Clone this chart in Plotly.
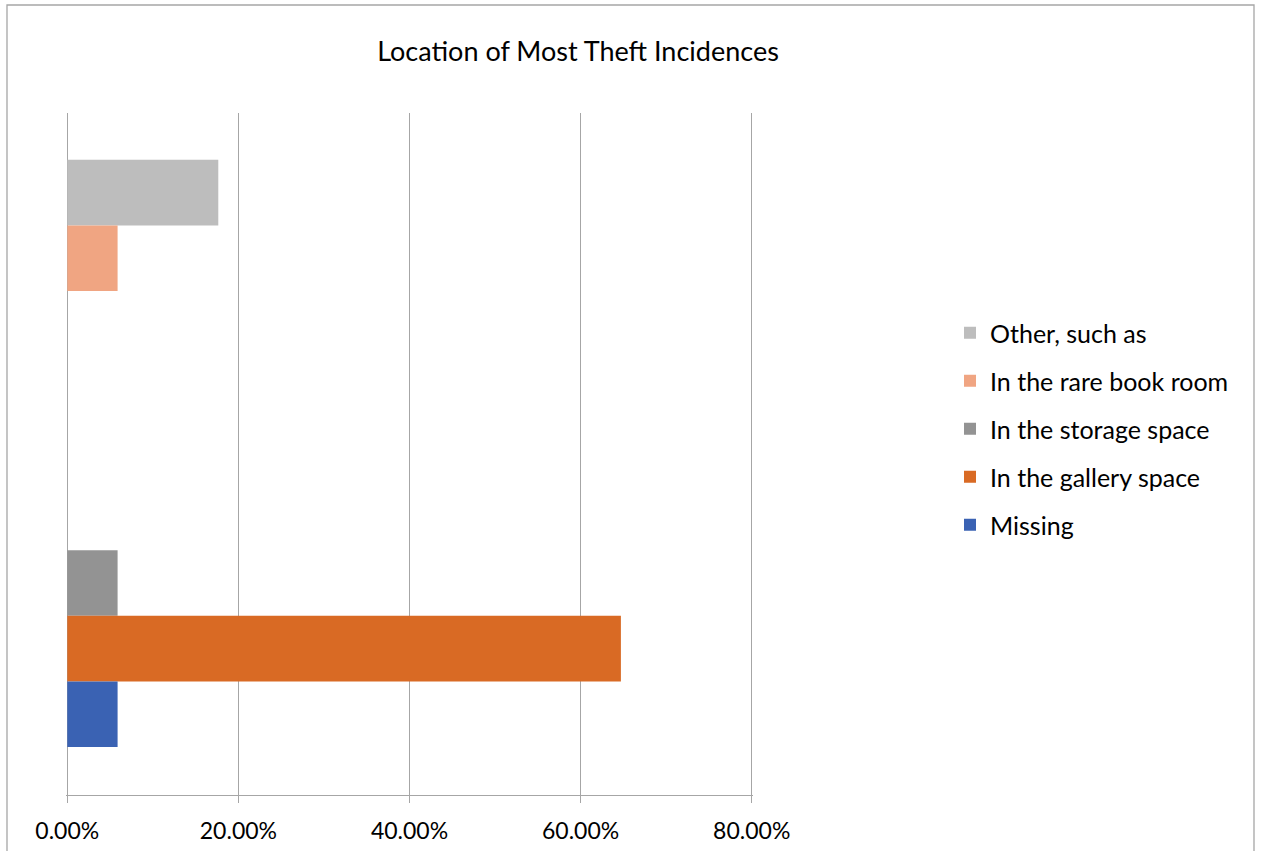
import plotly.graph_objects as go

# Survey result: where most theft incidences took place (share of responses)
groups = ["Group 1", "Group 2"]
series_names = ["Missing", "In the gallery space", "In the storage space",
                "In the rare book room", "Other, such as"]
missing = [0.0588, None]
gallery = [0.6471, None]
storage = [0.0588, None]
rare_book = [None, 0.0588]
other = [None, 0.1765]
tick_vals = [0, 0.2, 0.4, 0.6, 0.8]
tick_text = ["0.00%", "20.00%", "40.00%", "60.00%", "80.00%"]

series_values = [missing, gallery, storage, rare_book, other]
colors = ["#3a62b3", "#d96a24", "#939393", "#f0a582", "#bdbdbd"]
slot_index = [-2, -1, 0, 1, 2]
bar_w = 0.2531

FONT = "Lato"

fig = go.Figure()
# added last-to-first so the legend lists "Other" at the top
for name, vals, col, k in reversed(list(zip(series_names, series_values, colors, slot_index))):
    fig.add_trace(go.Bar(
        y=groups, x=vals, orientation="h", name=name,
        marker=dict(color=col, line=dict(width=0)),
        width=bar_w, offset=k * bar_w - bar_w / 2,
        legendgroup=name,
    ))

W, H = 1261, 851
X_PAD = 0.0015
L, R, T, B = 66, 753, 113, 795
pw, ph = R - L, B - T
CAT_PX = 259.2    # pixels between the two category centres
C0_PX = 583.0     # pixel row of the first category centre

def px_x(x):
    return (x - L) / pw

def px_y(y):
    return (B - y) / ph

fig.add_shape(type="rect", xref="paper", yref="paper",
              x0=px_x(7), x1=px_x(1254), y0=px_y(870), y1=px_y(5),
              line=dict(color="#a6a6a6", width=1.3), fillcolor="rgba(0,0,0,0)",
              layer="below")

fig.update_layout(
    width=W, height=H,
    margin=dict(l=L, r=W - R, t=T, b=H - B, pad=0, autoexpand=False),
    barmode="overlay",
    paper_bgcolor="white", plot_bgcolor="white",
    font=dict(family=FONT, color="#000000"),
    title=dict(text="Location of Most Theft Incidences",
               x=578 / W, xref="container", xanchor="center",
               y=1 - 52 / H, yref="container", yanchor="middle",
               font=dict(family=FONT, size=27, color="#000000")),
    xaxis=dict(range=[-X_PAD, 0.8 + X_PAD], tickvals=tick_vals, ticktext=tick_text,
               showgrid=True, gridcolor="#a6a6a6", gridwidth=1,
               zeroline=True, zerolinecolor="#a6a6a6", zerolinewidth=1,
               showline=True, linecolor="#a6a6a6", linewidth=1,
               ticks="outside", ticklen=7, tickcolor="#a6a6a6",
               ticklabelstandoff=8, automargin=False,
               tickfont=dict(family=FONT, size=23, color="#000000"),
               fixedrange=True),
    yaxis=dict(type="category", categoryorder="array", categoryarray=groups,
               range=[-(B - C0_PX) / CAT_PX, (C0_PX - T) / CAT_PX],
               showticklabels=False, showgrid=False, showline=False,
               ticks="", zeroline=False, fixedrange=True, automargin=False),
    legend=dict(x=px_x(950), xanchor="left", y=px_y(310), yanchor="top",
                traceorder="grouped", tracegroupgap=12.5,
                font=dict(family=FONT, size=25, color="#000000"),
                bgcolor="rgba(0,0,0,0)", borderwidth=0,
                itemclick=False, itemdoubleclick=False),
    showlegend=True,
)

fig.write_html("out.html")
